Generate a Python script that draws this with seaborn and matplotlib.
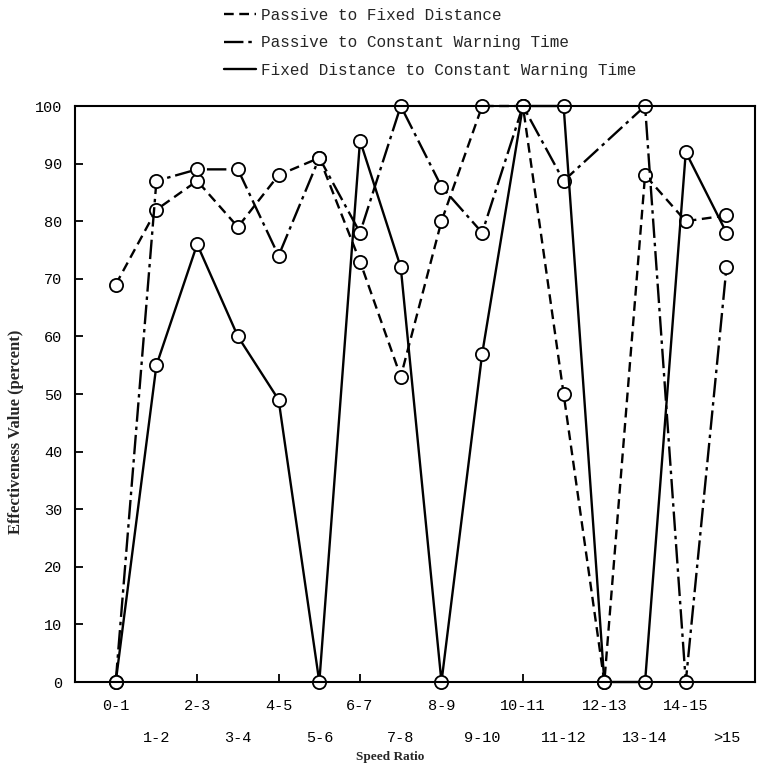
import numpy as np
import pandas as pd
import matplotlib
matplotlib.use("Agg")
import matplotlib.pyplot as plt
from matplotlib.lines import Line2D
import seaborn as sns

categories = ['0-1', '1-2', '2-3', '3-4', '4-5', '5-6', '6-7', '7-8',
              '8-9', '9-10', '10-11', '11-12', '12-13', '13-14', '14-15', '>15']
passive_fixed = [69, 82, 87, 79, 88, 91, 73, 53, 80, 100, 100, 50, 0, 88, 80, 81]
passive_cwt = [0, 87, 89, 89, 74, 91, 78, 100, 86, 78, 100, 87, np.nan, 100, 0, 72]
fixed_cwt = [0, 55, 76, 60, 49, 0, 94, 72, 0, 57, 100, 100, 0, 0, 92, 78]
series_names = ['Passive to Fixed Distance',
                'Passive to Constant Warning Time',
                'Fixed Distance to Constant Warning Time']
y_ticks = [0, 10, 20, 30, 40, 50, 60, 70, 80, 90, 100]

sns.set_style("white")
plt.rcParams['lines.scale_dashes'] = False

fig = plt.figure(figsize=(7.62, 7.67), dpi=100)
ax = fig.add_axes([75/762, 1-682/767, (755-75)/762, (682-106)/767])

idx = np.arange(len(categories))
frames = []
for name, vals in zip(series_names, [passive_fixed, passive_cwt, fixed_cwt]):
    frames.append(pd.DataFrame({'pos': idx, 'value': vals, 'series': name}))
df = pd.concat(frames, ignore_index=True).dropna()

dash_map = {series_names[0]: (7, 4),
            series_names[1]: (14, 3.5, 2.5, 3.5),
            series_names[2]: ''}

for name in series_names:
    sub = df[df['series'] == name]
    d = dash_map[name]
    ls = '-' if d == '' else (0, d)
    sns.lineplot(data=sub, x='pos', y='value', ax=ax, color='black',
                 linewidth=1.7, linestyle=ls, marker='o', markersize=9.5,
                 markerfacecolor='white', markeredgecolor='black',
                 markeredgewidth=1.3, clip_on=False, legend=False,
                 estimator=None, sort=False)

ax.set_xlim(-1.0, 15.7)
ax.set_ylim(0, 100)
ax.set_yticks(y_ticks)
ax.set_yticklabels([str(t) for t in y_ticks], fontfamily='Liberation Mono', fontsize=11)

even = idx[::2]
odd = idx[1::2]
ax.set_xticks(even)
ax.set_xticklabels([categories[i] for i in even], fontfamily='Liberation Mono', fontsize=11)
ax.set_xticks(odd, minor=True)
ax.set_xticklabels([categories[i] for i in odd], minor=True,
                   fontfamily='Liberation Mono', fontsize=11)
ax.tick_params(axis='x', which='major', direction='in', length=6, width=1.3, pad=12, colors='black')
ax.tick_params(axis='x', which='minor', direction='in', length=6, width=1.3, pad=35, colors='black')
ax.tick_params(axis='y', which='major', direction='in', length=6, width=1.3, pad=9, colors='black')
ax.tick_params(left=True, bottom=True, top=False, right=False)

for sp in ax.spines.values():
    sp.set_visible(True)
    sp.set_color('black')
    sp.set_linewidth(1.5)

ax.set_xlabel('Speed Ratio', fontfamily='Liberation Serif', fontweight='bold', fontsize=9.5)
ax.xaxis.set_label_coords((390-75)/680, (682-757)/576)
ax.xaxis.label.set_va('center')
ax.set_ylabel('Effectiveness Value (percent)', fontfamily='Liberation Serif',
              fontweight='bold', fontsize=12)
ax.yaxis.set_label_coords((16-75)/680, (682-432)/576)
ax.yaxis.label.set_va('center')

handles = [Line2D([], [], color='black', linewidth=1.7,
                  linestyle=('-' if dash_map[n] == '' else (0, dash_map[n])))
           for n in series_names]
leg = fig.legend(handles, series_names, loc='upper left',
                 bbox_to_anchor=(216/762, 1.0), frameon=False,
                 prop={'family': 'Liberation Mono', 'size': 11.5},
                 handlelength=2.0, handletextpad=0.3, labelspacing=0.78,
                 borderpad=0.0)

fig.savefig('out.png', dpi=100)
